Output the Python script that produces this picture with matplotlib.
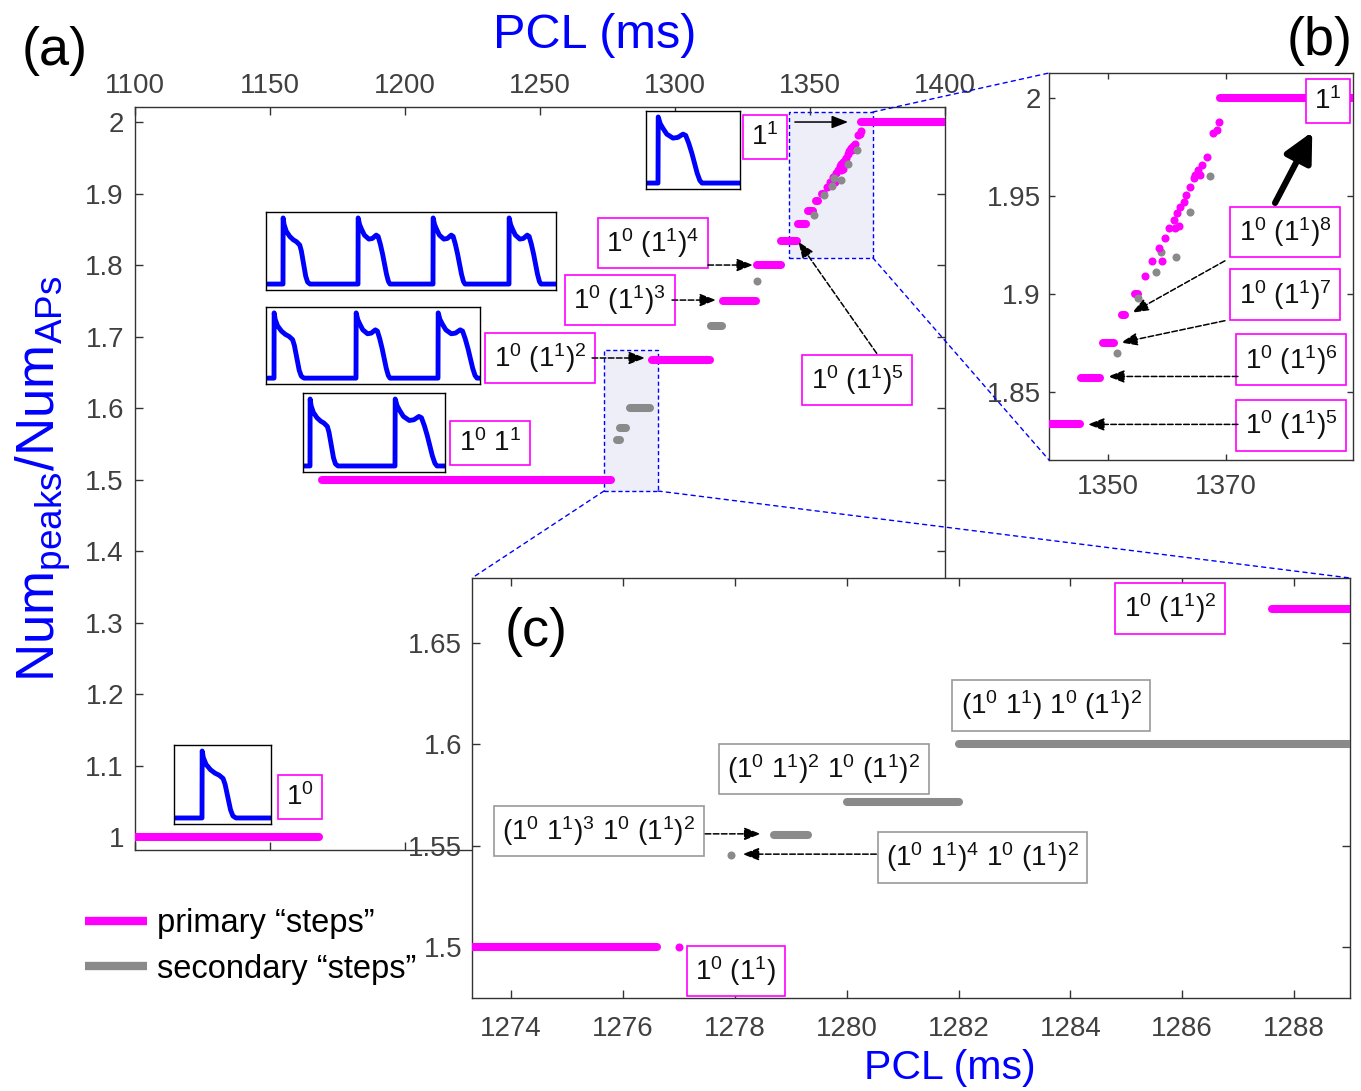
import matplotlib
matplotlib.use('Agg')
import matplotlib.pyplot as plt
from matplotlib.patches import Rectangle, ConnectionPatch
from matplotlib.lines import Line2D
from matplotlib.ticker import FixedLocator, FuncFormatter

plt.rcParams['font.family'] = 'Liberation Sans'
plt.rcParams['mathtext.fontset'] = 'custom'
plt.rcParams['mathtext.rm'] = 'Liberation Sans'
plt.rcParams['mathtext.it'] = 'Liberation Sans:italic'
plt.rcParams['mathtext.bf'] = 'Liberation Sans:bold'
plt.rcParams['mathtext.sf'] = 'Liberation Sans'

# ---- data: panels (a) and (b) ----
# primary plateaus: level, first PCL, last PCL
prim_level = [1.0, 1.5, 5/3, 1.75, 1.8, 11/6, 13/7, 15/8, 17/9, 1.9, 2.0]
prim_start = [1100.0, 1169.3, 1291.3, 1317.6, 1330.5, 1339.4, 1345.5, 1349.2, 1352.3, 1354.5, 1369.0]
prim_end = [1168.1, 1276.3, 1313.0, 1330.0, 1339.3, 1345.3, 1348.6, 1351.0, 1352.9, 1355.0, 1400.0]
# secondary plateaus
sec_level = [14/9, 11/7, 1.6, 12/7]
sec_start = [1278.6, 1279.6, 1283.3, 1313.3]
sec_end = [1279.5, 1281.9, 1290.7, 1317.4]
# isolated points in the transition region
prim_dot_x = [1356.3, 1357.5, 1359.2, 1358.6, 1359.6, 1360.4, 1361.4, 1362.1, 1361.1, 1361.6,
              1362.2, 1362.8, 1363.2, 1363.9, 1364.6, 1364.7, 1365.6, 1365.3, 1366.0, 1366.8,
              1367.8, 1368.4, 1368.8]
prim_dot_y = [1.9091, 1.9167, 1.9167, 1.9233, 1.9287, 1.9335, 1.9335, 1.9347, 1.9378, 1.9415,
              1.9445, 1.9470, 1.9502, 1.9547, 1.9590, 1.9607, 1.9607, 1.9633, 1.9658, 1.9697,
              1.9820, 1.9837, 1.9879]
sec_dot_x = [1330.2, 1351.5, 1355.1, 1358.1, 1358.9, 1361.5, 1363.9, 1367.3]
sec_dot_y = [1.7778, 1.8697, 1.8978, 1.9112, 1.9211, 1.9190, 1.9418, 1.9602]

# ---- data: panel (c) (finer sweep) ----
c_prim_level = [1.5, 5/3]
c_prim_start = [1273.0, 1287.6]
c_prim_end = [1276.6, 1289.5]
c_prim_dot_x = [1277.0]
c_prim_dot_y = [1.5]
c_sec_level = [14/9, 11/7, 1.6]
c_sec_start = [1278.7, 1280.0, 1282.0]
c_sec_end = [1279.3, 1282.0, 1289.5]
c_sec_dot_x = [1277.94]
c_sec_dot_y = [17/11]

a_xticks = [1100, 1150, 1200, 1250, 1300, 1350, 1400]
a_yticks = [1.0, 1.1, 1.2, 1.3, 1.4, 1.5, 1.6, 1.7, 1.8, 1.9, 2.0]
b_xticks = [1350, 1370]
b_yticks = [1.85, 1.9, 1.95, 2.0]
c_xticks = [1274, 1276, 1278, 1280, 1282, 1284, 1286, 1288]
c_yticks = [1.5, 1.55, 1.6, 1.65]

# action potential shapes (normalised time within one beat, normalised voltage)
ap_t = {0: [0, 0.005, 0.04, 0.12, 0.25, 0.38, 0.5, 0.62, 0.68, 0.76, 0.84, 0.91, 1.0],
        1: [0, 0.005, 0.05, 0.11, 0.2, 0.34, 0.45, 0.52, 0.57, 0.63, 0.7, 0.77, 0.83, 0.89, 0.95, 1.0]}
ap_v = {0: [0, 1, 0.9, 0.8, 0.72, 0.67, 0.64, 0.59, 0.5, 0.31, 0.12, 0.03, 0],
        1: [0, 1, 0.9, 0.83, 0.74, 0.68, 0.69, 0.72, 0.74, 0.72, 0.6, 0.45, 0.3, 0.15, 0.04, 0]}

MAG = '#FF00FF'
GRAY = '#8A8A8A'
BLUE = '#0000FF'
TXT = '#404040'
W, H = 1361, 1091

fig = plt.figure(figsize=(W / 100, H / 100), dpi=100)


def px_axes(l, t, r, b):
    return fig.add_axes([l / W, 1 - b / H, (r - l) / W, (b - t) / H])


def style(ax, xt, yt, ticklen, xpad, ypad):
    ax.xaxis.set_major_locator(FixedLocator(xt))
    ax.yaxis.set_major_locator(FixedLocator(yt))
    fmt = FuncFormatter(lambda v, p: f'{v:g}')
    ax.xaxis.set_major_formatter(fmt)
    ax.yaxis.set_major_formatter(fmt)
    ax.tick_params(direction='in', length=ticklen, width=1, colors='#333333',
                   labelcolor=TXT, labelsize=20, top=True, right=True)
    ax.tick_params(axis='x', pad=xpad)
    ax.tick_params(axis='y', pad=ypad)
    for s in ax.spines.values():
        s.set_color('#333333')
        s.set_linewidth(1)


def draw_steps(ax, lev, x0, x1, color):
    for y, a, b in zip(lev, x0, x1):
        ax.plot([a, b], [y, y], color=color, lw=5.8, solid_capstyle='round', zorder=3)


def draw_dots(ax, xs, ys, color):
    ax.plot(xs, ys, 'o', color=color, ms=5.8, mec='none', zorder=3)


def tag(ax, x, y, s, ec=MAG):
    ax.text(x, y, s, ha='center', va='center', fontsize=20, color='#111111', zorder=6,
            bbox=dict(boxstyle='square,pad=0.3', fc='white', ec=ec, lw=1.2))


def arrow(ax, p0, p1, ls='--', lw=1.1, scale=11, head='-|>,head_length=0.9,head_width=0.35'):
    ax.annotate('', xy=p1, xytext=p0, zorder=7,
                arrowprops=dict(arrowstyle=head, linestyle=ls, lw=lw, color='k',
                                mutation_scale=scale, shrinkA=0, shrinkB=0))


# ---------------- panel (a) ----------------
ax_a = px_axes(135, 107, 945, 850)
ax_a.set_xlim(1100, 1400)
ax_a.set_ylim(0.982, 2.021)
style(ax_a, a_xticks, a_yticks, 6, 6, 8)
ax_a.xaxis.tick_top()
ax_a.tick_params(axis='x', bottom=True, top=True, labelbottom=False, labeltop=True)

box_b = (1342.2, 1373.3, 1.810, 2.014)
box_c = (1273.7, 1293.7, 1.484, 1.681)
for (x0, x1, y0, y1) in (box_b, box_c):
    ax_a.add_patch(Rectangle((x0, y0), x1 - x0, y1 - y0, fc='#EEEEF9', ec=BLUE,
                             lw=1, ls=(0, (3, 2)), zorder=1))

draw_steps(ax_a, prim_level, prim_start, prim_end, MAG)
draw_steps(ax_a, sec_level, sec_start, sec_end, GRAY)
draw_dots(ax_a, prim_dot_x, prim_dot_y, MAG)
draw_dots(ax_a, sec_dot_x, sec_dot_y, GRAY)

tag(ax_a, 1161.1, 1.056, r'$1^0$')
tag(ax_a, 1231.5, 1.551, r'$1^0\ 1^1$')
tag(ax_a, 1250.0, 1.670, r'$1^0\ (1^1)^2$')
tag(ax_a, 1279.6, 1.751, r'$1^0\ (1^1)^3$')
tag(ax_a, 1291.9, 1.831, r'$1^0\ (1^1)^4$')
tag(ax_a, 1333.3, 1.979, r'$1^1$')
tag(ax_a, 1367.4, 1.639, r'$1^0\ (1^1)^5$')
arrow(ax_a, (1269.3, 1.670), (1288.9, 1.670))
arrow(ax_a, (1298.9, 1.751), (1315.2, 1.751))
arrow(ax_a, (1312.2, 1.800), (1328.9, 1.800))
arrow(ax_a, (1374.7, 1.6765), (1345.7, 1.8326))
arrow(ax_a, (1344.4, 2.000), (1364.1, 2.000), ls='-')

# ---------------- AP insets ----------------
insets = [
    ((174, 745, 271, 824), 97, [28], [34], [0]),
    ((646, 111, 740, 189), 94, [12], [44], [1]),
    ((303, 393, 445, 472), 142, [7, 92], [28, 42], [0, 1]),
    ((266, 307, 480, 384), 214, [8, 90, 172], [30, 34, 39], [0, 1, 1]),
    ((266, 212, 556, 290), 290, [17, 92, 167, 243], [27, 32, 32, 32], [0, 1, 1, 1]),
]
for box, span, starts, durs, kinds in insets:
    axi = px_axes(*box)
    tt, vv = [0], [0]
    for s, d, k in zip(starts, durs, kinds):
        tt += [s + d * u for u in ap_t[k]]
        vv += ap_v[k]
    tt.append(span)
    vv.append(0)
    axi.plot(tt, vv, color=BLUE, lw=3.5, solid_joinstyle='round', solid_capstyle='butt')
    axi.set_xlim(0, span)
    axi.set_ylim(-0.09, 1.09)
    axi.set_xticks([])
    axi.set_yticks([])
    for s in axi.spines.values():
        s.set_color('black')
        s.set_linewidth(1)

# ---------------- panel (b) ----------------
ax_b = px_axes(1049, 73, 1353, 460)
ax_b.set_xlim(1340, 1391.5)
ax_b.set_ylim(1.815, 2.0128)
style(ax_b, b_xticks, b_yticks, 4, 10, 6)
draw_steps(ax_b, prim_level, prim_start, prim_end, MAG)
draw_steps(ax_b, sec_level, sec_start, sec_end, GRAY)
draw_dots(ax_b, sec_dot_x, sec_dot_y, GRAY)
draw_dots(ax_b, prim_dot_x, prim_dot_y, MAG)

tag(ax_b, 1387.3, 1.9985, r'$1^1$')
tag(ax_b, 1380.0, 1.9316, r'$1^0\ (1^1)^8$')
tag(ax_b, 1380.0, 1.8995, r'$1^0\ (1^1)^7$')
tag(ax_b, 1381.0, 1.8663, r'$1^0\ (1^1)^6$')
tag(ax_b, 1381.0, 1.8327, r'$1^0\ (1^1)^5$')
arrow(ax_b, (1369.8, 1.9168), (1354.1, 1.8903))
arrow(ax_b, (1369.8, 1.8862), (1352.2, 1.8750))
arrow(ax_b, (1372.0, 1.8577), (1350.0, 1.8577))
arrow(ax_b, (1372.0, 1.8332), (1346.6, 1.8332))
arrow(ax_b, (1378.3, 1.9464), (1384.6, 1.9827), ls='-', lw=4.5, scale=22,
      head='-|>,head_length=0.8,head_width=0.4')

# ---------------- panel (c) ----------------
ax_c = px_axes(472, 578, 1350, 998)
ax_c.set_xlim(1273.3, 1289.0)
ax_c.set_ylim(1.475, 1.682)
style(ax_c, c_xticks, c_yticks, 6, 13, 7)
draw_steps(ax_c, c_prim_level, c_prim_start, c_prim_end, MAG)
draw_steps(ax_c, c_sec_level, c_sec_start, c_sec_end, GRAY)
draw_dots(ax_c, c_prim_dot_x, c_prim_dot_y, MAG)
draw_dots(ax_c, c_sec_dot_x, c_sec_dot_y, GRAY)

tag(ax_c, 1285.78, 1.667, r'$1^0\ (1^1)^2$')
tag(ax_c, 1283.66, 1.6192, r'$(1^0\ 1^1)\ 1^0\ (1^1)^2$', ec='#999999')
tag(ax_c, 1279.59, 1.5879, r'$(1^0\ 1^1)^2\ 1^0\ (1^1)^2$', ec='#999999')
tag(ax_c, 1275.57, 1.5573, r'$(1^0\ 1^1)^3\ 1^0\ (1^1)^2$', ec='#999999')
tag(ax_c, 1282.43, 1.5442, r'$(1^0\ 1^1)^4\ 1^0\ (1^1)^2$', ec='#999999')
tag(ax_c, 1278.02, 1.4882, r'$1^0\ (1^1)$')
arrow(ax_c, (1277.47, 1.5559), (1278.46, 1.5559))
arrow(ax_c, (1280.53, 1.5459), (1278.14, 1.5459))

# ---------------- zoom connectors ----------------
for xy, ax_to, corner in [((box_b[1], box_b[3]), ax_b, (0, 1)),
                          ((box_b[1], box_b[2]), ax_b, (0, 0)),
                          ((box_c[0], box_c[2]), ax_c, (0, 1)),
                          ((box_c[1], box_c[2]), ax_c, (1, 1))]:
    con = ConnectionPatch(xyA=xy, coordsA='data', axesA=ax_a, xyB=corner,
                          coordsB='axes fraction', axesB=ax_to,
                          color=BLUE, lw=1, ls=(0, (3, 3)))
    fig.add_artist(con)

# ---------------- labels ----------------
fig.text(595 / W, 1 - 35 / H, 'PCL (ms)', color=BLUE, fontsize=35, ha='center', va='center')
fig.text(950 / W, 1 - 1068 / H, 'PCL (ms)', color=BLUE, fontsize=29.5, ha='center', va='center')
fig.text(43 / W, 1 - 479 / H, r'$\mathrm{Num_{peaks}/Num_{APs}}$', color=BLUE, fontsize=38,
         rotation=90, ha='center', va='center')
fig.text(55 / W, 1 - 51 / H, '(a)', fontsize=39, ha='center', va='center')
fig.text(1320 / W, 1 - 41 / H, '(b)', fontsize=39, ha='center', va='center')
fig.text(536 / W, 1 - 632 / H, '(c)', fontsize=39, ha='center', va='center')

handles = [Line2D([], [], color=MAG, lw=6, solid_capstyle='butt'),
           Line2D([], [], color=GRAY, lw=6, solid_capstyle='butt')]
fig.legend(handles, ['primary \u201csteps\u201d', 'secondary \u201csteps\u201d'],
           loc='upper left', bbox_to_anchor=(85 / W, 1 - 908 / H), frameon=False,
           fontsize=23.5, handlelength=1.9, handletextpad=0.3, labelspacing=0.45,
           borderpad=0, borderaxespad=0)

fig.savefig('out.png', dpi=100)
